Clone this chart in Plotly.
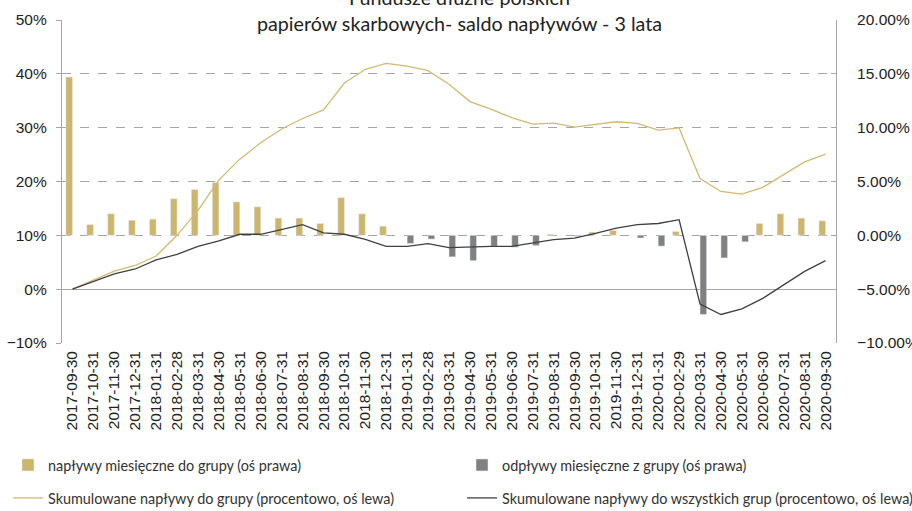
import plotly.graph_objects as go

dates = ["2017-09-30", "2017-10-31", "2017-11-30", "2017-12-31", "2018-01-31", "2018-02-28",
         "2018-03-31", "2018-04-30", "2018-05-31", "2018-06-30", "2018-07-31", "2018-08-31",
         "2018-09-30", "2018-10-31", "2018-11-30", "2018-12-31", "2019-01-31", "2019-02-28",
         "2019-03-31", "2019-04-30", "2019-05-31", "2019-06-30", "2019-07-31", "2019-08-31",
         "2019-09-30", "2019-10-31", "2019-11-30", "2019-12-31", "2020-01-31", "2020-02-29",
         "2020-03-31", "2020-04-30", "2020-05-31", "2020-06-30", "2020-07-31", "2020-08-31",
         "2020-09-30"]

# monthly inflows to the group (% , right axis)
inflows = [14.7, 1.0, 2.0, 1.4, 1.5, 3.4, 4.25, 4.9, 3.1, 2.65, 1.6, 1.6,
           1.1, 3.5, 2.0, 0.85, None, None, None, None, None, None, None, 0.1,
           None, 0.3, 0.45, None, None, 0.35, None, None, None, 1.1, 2.0, 1.6,
           1.35]

# monthly outflows from the group (% , right axis)
outflows = [None, None, None, None, None, None, None, None, None, None, None, None,
            None, None, None, None, -0.75, -0.35, -2.0, -2.35, -1.0, -1.1, -0.95, None,
            -0.1, None, None, -0.25, -1.0, None, -7.35, -2.1, -0.6, None, None, None,
            None]

# cumulative inflows to the group (% , left axis)
cum_group = [0.0, 1.6, 3.35, 4.4, 6.15, 10.0, 14.65, 20.25, 24.15, 27.2, 29.75, 31.7,
             33.3, 38.3, 40.85, 41.95, 41.45, 40.6, 38.05, 34.85, 33.45, 31.85, 30.65, 30.85,
             30.1, 30.6, 31.1, 30.8, 29.55, 29.95, 20.55, 18.15, 17.65, 18.9, 21.3, 23.65,
             25.1]

# cumulative inflows to all groups (% , left axis)
cum_all = [0.0, 1.45, 2.85, 3.75, 5.45, 6.45, 7.95, 8.95, 10.2, 10.2, 11.05, 12.0,
           10.45, 10.2, 9.25, 7.95, 7.95, 8.45, 7.7, 7.85, 7.95, 7.95, 8.55, 9.2,
           9.5, 10.35, 11.35, 12.0, 12.2, 12.9, -2.75, -4.7, -3.65, -1.7, 0.8, 3.3,
           5.3]

title_text = "Fundusze dłużne polskich<br>papierów skarbowych- saldo napływów - 3 lata"
names = ["napływy miesięczne do grupy (oś prawa)",
         "odpływy miesięczne z grupy (oś prawa)",
         "Skumulowane napływy do grupy (procentowo, oś lewa)",
         "Skumulowane napływy do wszystkich grup (procentowo, oś lewa)"]

GOLD = "#CDB56C"
GOLD_LINE = "#D2BA72"
GRAY = "#808080"
DARK = "#404040"
GRID = "#A6A6A6"

fig = go.Figure()
fig.add_trace(go.Bar(x=dates, y=inflows, name=names[0], marker_color=GOLD,
                     yaxis="y", legend="legend"))
fig.add_trace(go.Bar(x=dates, y=outflows, name=names[1], marker_color=GRAY,
                     yaxis="y", legend="legend2"))
fig.add_trace(go.Scatter(x=dates, y=cum_group, name=names[2], mode="lines",
                         line=dict(color=GOLD_LINE, width=1.3), yaxis="y2", legend="legend3"))
fig.add_trace(go.Scatter(x=dates, y=cum_all, name=names[3], mode="lines",
                         line=dict(color=DARK, width=1.3), yaxis="y2", legend="legend4"))

tick_font = dict(family="Liberation Sans, Arial, sans-serif", size=15.5, color="#222222")
leg_font = dict(family="Lato, sans-serif", size=14.4, color="#333333")


def leg(x, y):
    return dict(orientation="h", x=x, xanchor="left", y=y, yanchor="middle",
                font=leg_font, bgcolor="rgba(0,0,0,0)", itemclick=False,
                itemdoubleclick=False)


col1, col2 = -0.0698, 0.5168
row1, row2 = -0.378, -0.480

fig.update_layout(
    width=912, height=511,
    margin=dict(l=62, r=76, t=20, b=168, autoexpand=False),
    paper_bgcolor="white", plot_bgcolor="white",
    barmode="group", bargap=0.37, bargroupgap=0,
    showlegend=True,
    xaxis=dict(type="category", tickangle=-90,
               tickfont=dict(family="Liberation Sans, Arial, sans-serif", size=15.5, color="#222222"),
               showgrid=False, showline=False, ticks="", zeroline=False,
               ticklabelstandoff=4, automargin=False),
    yaxis=dict(side="right", range=[-10, 20], dtick=5, tickformat=".2f", ticksuffix="%",
               showgrid=False, zeroline=False, showline=True, linecolor=GRID, linewidth=1,
               ticks="inside", ticklen=5, tickcolor=GRID, tickfont=tick_font,
               ticklabelstandoff=17, automargin=False),
    yaxis2=dict(side="left", overlaying="y", range=[-10, 50], dtick=10, ticksuffix="%",
                showgrid=True, gridcolor=GRID, griddash="dash", gridwidth=1,
                zeroline=True, zerolinecolor=GRID, zerolinewidth=1.3,
                showline=True, linecolor=GRID, linewidth=1.3,
                ticks="outside", ticklen=5, tickcolor=GRID, tickfont=tick_font,
                ticklabelstandoff=6, automargin=False),
    legend=leg(col1, row1),
    legend2=leg(col2, row1),
    legend3=leg(col1, row2),
    legend4=leg(col2, row2),
    annotations=[dict(text=title_text, xref="paper", yref="paper", x=0.514, y=1.030,
                      xanchor="center", yanchor="middle", showarrow=False,
                      font=dict(family="Lato, sans-serif", size=19.7, color="#222222"))],
)

fig.write_html("out.html",
               config={"displayModeBar": False},
               post_script="document.body.style.margin='0px';document.body.style.overflow='hidden';")
